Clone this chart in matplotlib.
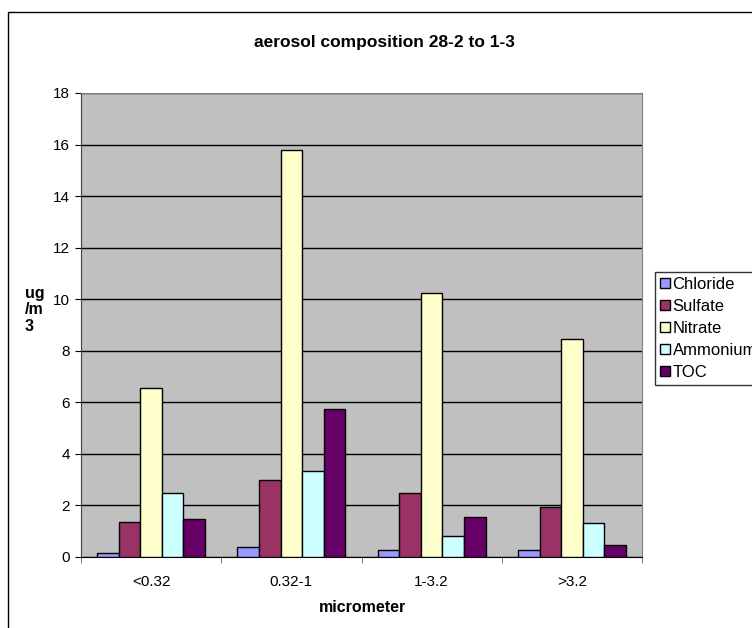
import matplotlib.pyplot as plt
from matplotlib.patches import Rectangle
import numpy as np

plt.rcParams['font.family'] = ['Liberation Sans', 'DejaVu Sans']

# size fractions (micrometer) and concentrations in ug/m3
categories = ["<0.32", "0.32-1", "1-3.2", ">3.2"]
species = ["Chloride", "Sulfate", "Nitrate", "Ammonium", "TOC"]
chloride = [0.14, 0.37, 0.28, 0.27]
sulfate = [1.37, 3.00, 2.48, 1.95]
nitrate = [6.55, 15.80, 10.25, 8.45]
ammonium = [2.48, 3.35, 0.82, 1.30]
toc = [1.47, 5.74, 1.54, 0.45]
colors = ["#9999FF", "#993366", "#FFFFCC", "#CCFFFF", "#660066"]

series = [chloride, sulfate, nitrate, ammonium, toc]

W, H = 752, 628
fig = plt.figure(figsize=(W / 100, H / 100), dpi=100)
# chart frame (runs past the right/bottom edges)
fig.patches.append(Rectangle((8 / W, -0.05), 1.1, 1 - 12 / H + 0.05,
                             transform=fig.transFigure, fill=False,
                             edgecolor="black", linewidth=1.0))

ax = fig.add_axes([81 / W, 1 - 557 / H, (642 - 81) / W, (557 - 93) / H])
ax.set_facecolor("#C0C0C0")

n = len(series)
width = 1.0 / (n + 1.5)
x = np.arange(len(categories))
for i, (vals, name, col) in enumerate(zip(series, species, colors)):
    offs = (i - (n - 1) / 2) * width
    ax.bar(x + offs, vals, width, color=col, edgecolor="black",
           linewidth=1.0, label=name, zorder=3)

ax.set_xlim(-0.5, len(categories) - 0.5)
ax.set_ylim(0, 18)
ax.set_yticks(np.arange(0, 19, 2))
ax.yaxis.grid(True, color="black", linewidth=1.0, zorder=1)
ax.set_axisbelow(True)

ax.set_xticks(x)
ax.set_xticklabels(categories, fontsize=11)
ax.set_xticks(np.arange(-0.5, len(categories)), minor=True)
ax.tick_params(axis="x", which="major", length=0, pad=13)
ax.tick_params(axis="x", which="minor", length=4, direction="out", color="#606060")
ax.tick_params(axis="y", length=4, direction="out", labelsize=11, pad=4)

for side in ["top", "right"]:
    ax.spines[side].set_color("#808080")
ax.spines["left"].set_color("#404040")
ax.spines["bottom"].set_color("black")

fig.text(384 / W, 1 - 42 / H, "aerosol composition 28-2 to 1-3",
         ha="center", va="center", fontsize=12.5, fontweight="bold")
fig.text(363 / W, 1 - 608 / H, "micrometer", ha="center", va="center",
         fontsize=11.5, fontweight="bold")
fig.text(25 / W, 1 - 310 / H, "ug\n/m\n3", ha="left", va="center",
         fontsize=11.5, fontweight="bold", linespacing=1.15)

leg = ax.legend(loc="upper left", bbox_to_anchor=(655 / W, 1 - 272 / H),
                bbox_transform=fig.transFigure, frameon=True, fancybox=False,
                edgecolor="black", fontsize=12, handlelength=0.6, handleheight=0.6,
                handletextpad=0.15, labelspacing=0.42, borderpad=0.3,
                borderaxespad=0)
leg.get_frame().set_linewidth(1.0)

fig.savefig("out.png", dpi=100)
